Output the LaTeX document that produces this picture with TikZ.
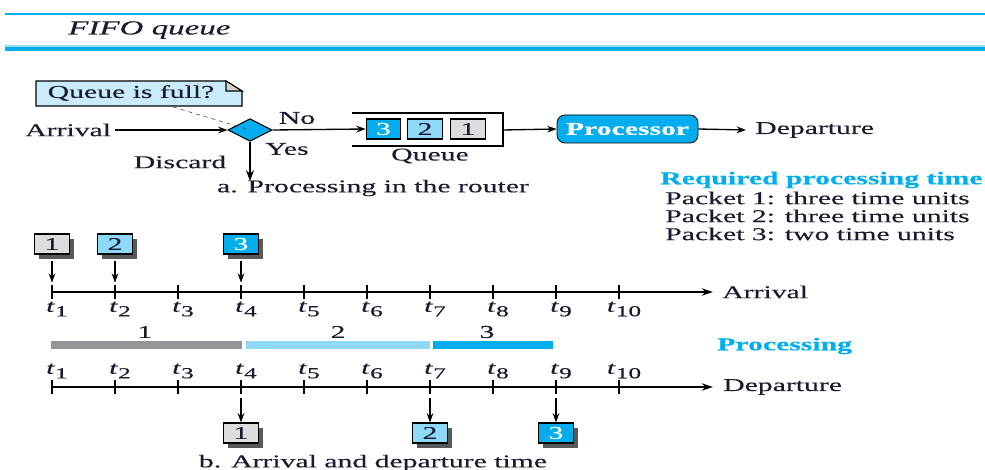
\documentclass[tikz,border=0pt]{standalone}
\usepackage{fontspec}
\setmainfont{Liberation Serif}[FakeStretch=1.65,FakeBold=0.3]
\usetikzlibrary{arrows.meta,shapes.geometric,shadows,calc}
\definecolor{fcyan}{HTML}{00AEEF}
\definecolor{flblue}{HTML}{8ED8F8}
\definecolor{fgray}{HTML}{DCDDDE}
\definecolor{fbar}{HTML}{939598}
\definecolor{fnote}{HTML}{C9EBFA}
\definecolor{fshadow}{HTML}{58595B}
\definecolor{ftext}{HTML}{1A1A2E}
\newcommand{\tlab}[1]{{\itshape t}\kern0.5pt\raisebox{-0.55ex}{\fontsize{11.5}{11.5}\selectfont #1}}
\begin{document}
\begin{tikzpicture}[x=0.75pt,y=-0.75pt,
  font=\fontsize{13.5}{15}\selectfont, text=ftext,
  txt/.style={inner sep=0pt},
  arr/.style={line width=1pt,-{Stealth[length=7pt,width=5pt]}},
  axis/.style={line width=1.3pt,-{Stealth[length=8.5pt,width=5.5pt]}},
  pkt/.style={draw=black,line width=0.8pt,minimum width=26pt,minimum height=15pt,
    inner sep=0pt,font=\fontsize{13.5}{13.5}\selectfont},
  shpkt/.style={pkt,drop shadow={shadow xshift=3.5pt,shadow yshift=-3.5pt,fill=fshadow,opacity=1}},
  p1/.style={fill=fgray},
  p2/.style={fill=flblue},
  p3/.style={fill=fcyan,text=white},
  bar/.style={line width=6.5pt}]
\useasboundingbox (0,0) rectangle (985,470);

% title rules
\draw[fcyan,line width=1.5pt] (5,14) -- (985,14);
\draw[fcyan!40,line width=0.8pt] (5,46) -- (985,46);
\draw[fcyan,line width=3pt] (5,49) -- (985,49);
\node[txt,anchor=west,font=\fontsize{15}{17}\selectfont\itshape] (title) at (68,30) {FIFO queue};

% a. processing in the router
\draw[fill=fnote,line width=0.8pt] (36,81) -- (226,81) -- (242,91) -- (242,106) -- (36,106) -- cycle;
\draw[fill=gray!35,line width=0.8pt] (226,81) -- (226,91) -- (242,91) -- cycle;
\node[txt] (qfull) at (131,93) {Queue is full?};

\node[txt,anchor=west] (arrin) at (25,130) {Arrival};
\node[shape=diamond,draw,fill=fcyan,line width=0.8pt,minimum width=33pt,minimum height=17pt,inner sep=0pt] (dia) at (250,130) {};
\coordinate (qtail) at (173,107);
\draw[dashed,line width=0.5pt,gray!70!black] (qtail) -- (dia.center);
\coordinate (arrstart) at (115,130);
\draw[arr] (arrstart) -- (dia.west);

\node[txt] (no) at (297,118) {No};
\node[txt] (yes) at (287,149) {Yes};
\node[txt] (discard) at (180,162) {Discard};
\coordinate (disc) at (250,181);
\draw[line width=1.8pt,-{Stealth[length=8pt,width=6pt]}] (dia.south) -- (disc);
\node[txt] (capa) at (373,188) {a. Processing in the router};

% queue
\node[pkt,p3] (q3) at (383.5,129) {3};
\node[pkt,p2] (q2) at (425,129) {2};
\node[pkt,p1] (q1) at (468,129) {1};
\draw[line width=0.8pt] (352,113) -- (503,113) -- (503,146) -- (352,146);
\coordinate (qright) at (503,130);
\node[txt] (qlab) at (430,156) {Queue};
\draw[arr] (dia.east) -- (q3.west);

\node[draw=black,fill=fcyan,line width=0.6pt,rounded corners=6pt,minimum width=105.75pt,
  minimum height=21pt,inner sep=0pt,text=white,font=\fontsize{13.5}{15}\selectfont\bfseries] (proc) at (627.5,129) {Processor};
\draw[arr] (qright) -- (proc.west);
\node[txt,anchor=west] (dep) at (755,130) {Departure};
\coordinate (depin) at (746,130);
\draw[arr] (proc.east) -- (depin);

% required processing time
\node[txt,anchor=west,text=fcyan,font=\fontsize{13.5}{15}\selectfont\bfseries] (req) at (660,180) {Required processing time};
\node[txt,anchor=west] (r1) at (665,198) {Packet 1: three time units};
\node[txt,anchor=west] (r2) at (665,216) {Packet 2: three time units};
\node[txt,anchor=west] (r3) at (665,234) {Packet 3: two time units};

% b. arrival and departure timelines
\foreach \i in {1,...,10} {
  \coordinate (a\i) at ({52+63*(\i-1)},292);
  \coordinate (d\i) at ({52+63*(\i-1)},387);
  \draw[line width=1pt] (a\i) ++(0,-7) -- ++(0,14);
  \draw[line width=1pt] (d\i) ++(0,-7) -- ++(0,14);
  \node[txt] (al\i) at ($(a\i)+(5,17)$) {\tlab{\i}};
  \node[txt] (dl\i) at ($(d\i)+(5,-16)$) {\tlab{\i}};
}
\coordinate (aend) at (713,292);
\coordinate (dend) at (713,387);
\draw[axis] (a1) -- (aend);
\draw[axis] (d1) -- (dend);
\node[txt,anchor=west] (arrlab) at (722,292) {Arrival};
\node[txt,anchor=west] (deplab) at (723,387) {Departure};

\node[shpkt,p1] (pa1) at (52,244) {1};
\node[shpkt,p2] (pa2) at (115,244) {2};
\node[shpkt,p3] (pa3) at (241,244) {3};
\foreach \p/\t in {1/1,2/2,3/4}
  \draw[arr] ([yshift=-4.5pt]pa\p.south) -- ([yshift=7pt]a\t);

% processing bars
\draw[bar,fbar] (51,345) -- (242,345);
\draw[bar,flblue] (246,345) -- (430,345);
\draw[bar,fcyan] (433,345) -- (553,345);
\node[txt] (b1) at (145,332) {1};
\node[txt] (b2) at (338,332) {2};
\node[txt] (b3) at (487,332) {3};
\node[txt,anchor=west,text=fcyan,font=\fontsize{13.5}{15}\selectfont\bfseries] (proclab) at (717,346) {Processing};

% departures
\node[shpkt,p1] (pd1) at (241,433) {1};
\node[shpkt,p2] (pd2) at (430,433) {2};
\node[shpkt,p3] (pd3) at (556,433) {3};
\foreach \p/\t in {1/4,2/7,3/9}
  \draw[arr] ([yshift=-8pt]d\t) -- (pd\p.north);

\node[txt] (capb) at (373,463) {b. Arrival and departure time};
\end{tikzpicture}
\end{document}
